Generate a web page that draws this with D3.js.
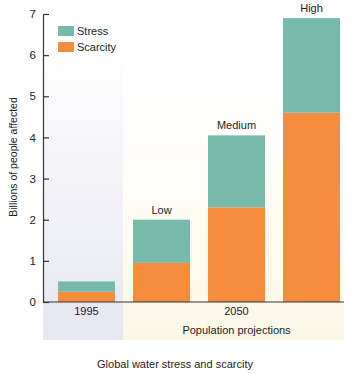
<!DOCTYPE html>
<html>
<head>
<meta charset="utf-8">
<script src="https://cdn.jsdelivr.net/npm/d3@7"></script>
<style>
  body { margin: 0; background: #fff; }
  text { font-family: "Liberation Sans", Arial, sans-serif; fill: #222; }
</style>
</head>
<body>
<div id="chart"></div>
<script>
// data
const scenarios = ["1995", "Low", "Medium", "High"];
const scenarioLabels = ["", "Low", "Medium", "High"];
const scarcity = [0.25, 0.95, 2.3, 4.6];
const stress = [0.25, 1.05, 1.75, 2.3];
const yTicks = [0, 1, 2, 3, 4, 5, 6, 7];
const seriesNames = ["Stress", "Scarcity"];

const width = 351;
const height = 374;
const colors = { Stress: "#77b9aa", Scarcity: "#f68c3d" };

const svg = d3.select("#chart")
  .append("svg")
  .attr("width", width)
  .attr("height", height);

const plotLeft = 43, plotRight = 344, plotTop = 14, plotBottom = 302, bandBottom = 340;

const x = d3.scaleBand()
  .domain(scenarios)
  .range([plotLeft, 355])
  .paddingInner(0.24)
  .paddingOuter(0.2);

const y = d3.scaleLinear()
  .domain([0, 7])
  .range([plotBottom, plotTop]);

// background bands, faded towards the top
const defs = svg.append("defs");
const g1 = defs.append("linearGradient").attr("id", "bgPast")
  .attr("x1", 0).attr("y1", 0).attr("x2", 0).attr("y2", 1);
g1.append("stop").attr("offset", "10%").attr("stop-color", "#ffffff");
g1.append("stop").attr("offset", "100%").attr("stop-color", "#e6e6f1");
const g2 = defs.append("linearGradient").attr("id", "bgFuture")
  .attr("x1", 0).attr("y1", 0).attr("x2", 0).attr("y2", 1);
g2.append("stop").attr("offset", "25%").attr("stop-color", "#ffffff");
g2.append("stop").attr("offset", "100%").attr("stop-color", "#fcf8e7");

const split = x("Low") - x.step() * x.paddingInner() / 2 - 1;
svg.append("rect")
  .attr("x", plotLeft).attr("y", plotTop)
  .attr("width", split - plotLeft).attr("height", bandBottom - plotTop)
  .attr("fill", "url(#bgPast)");
svg.append("rect")
  .attr("x", split).attr("y", plotTop)
  .attr("width", plotRight - split).attr("height", bandBottom - plotTop)
  .attr("fill", "url(#bgFuture)");

// stacked bars
const rows = scenarios.map((s, i) => ({ name: s, Scarcity: scarcity[i], Stress: stress[i] }));
const stacked = d3.stack().keys(["Scarcity", "Stress"])(rows);

svg.append("g")
  .selectAll("g")
  .data(stacked)
  .join("g")
  .attr("fill", d => colors[d.key])
  .selectAll("rect")
  .data(d => d)
  .join("rect")
  .attr("x", d => x(d.data.name))
  .attr("width", x.bandwidth())
  .attr("y", d => y(d[1]))
  .attr("height", d => y(d[0]) - y(d[1]));

// labels above bars
svg.append("g")
  .selectAll("text")
  .data(rows.map((r, i) => ({ name: r.name, label: scenarioLabels[i], total: r.Scarcity + r.Stress })))
  .join("text")
  .attr("x", d => x(d.name) + x.bandwidth() / 2)
  .attr("y", d => y(d.total) - 6)
  .attr("text-anchor", "middle")
  .attr("font-size", 11)
  .text(d => d.label);

// y axis
svg.append("g")
  .attr("transform", `translate(${plotLeft},0)`)
  .call(d3.axisLeft(y).tickValues(yTicks).tickFormat(d3.format("d"))
    .tickSizeInner(-6).tickSizeOuter(0).tickPadding(7))
  .call(g => g.selectAll("path, line").attr("stroke", "#333").attr("stroke-width", 1.2))
  .call(g => g.selectAll("text").attr("font-size", 11.5).attr("font-family", "Liberation Sans, Arial, sans-serif").attr("fill", "#222"));

// x axis line
svg.append("line")
  .attr("x1", plotLeft).attr("x2", plotRight)
  .attr("y1", y(0)).attr("y2", y(0))
  .attr("stroke", "#333").attr("stroke-width", 1.2);

// category labels
svg.append("text")
  .attr("x", x("1995") + x.bandwidth() / 2)
  .attr("y", 315)
  .attr("text-anchor", "middle")
  .attr("font-size", 11)
  .text("1995");
svg.append("text")
  .attr("x", x("Medium") + x.bandwidth() / 2)
  .attr("y", 315)
  .attr("text-anchor", "middle")
  .attr("font-size", 11)
  .text("2050");
svg.append("text")
  .attr("x", x("Medium") + x.bandwidth() / 2)
  .attr("y", 334)
  .attr("text-anchor", "middle")
  .attr("font-size", 11)
  .text("Population projections");

// y label
svg.append("text")
  .attr("transform", `translate(17,157) rotate(-90)`)
  .attr("text-anchor", "middle")
  .attr("font-size", 10.5)
  .text("Billions of people affected");

// title
svg.append("text")
  .attr("x", 175)
  .attr("y", 368)
  .attr("text-anchor", "middle")
  .attr("font-size", 11)
  .text("Global water stress and scarcity");

// legend
const legend = svg.append("g")
  .selectAll("g")
  .data(seriesNames)
  .join("g")
  .attr("transform", (d, i) => `translate(58,${26 + i * 16})`);
legend.append("rect")
  .attr("width", 16).attr("height", 10)
  .attr("fill", d => colors[d]);
legend.append("text")
  .attr("x", 19).attr("y", 9)
  .attr("font-size", 11)
  .text(d => d);
</script>
</body>
</html>
